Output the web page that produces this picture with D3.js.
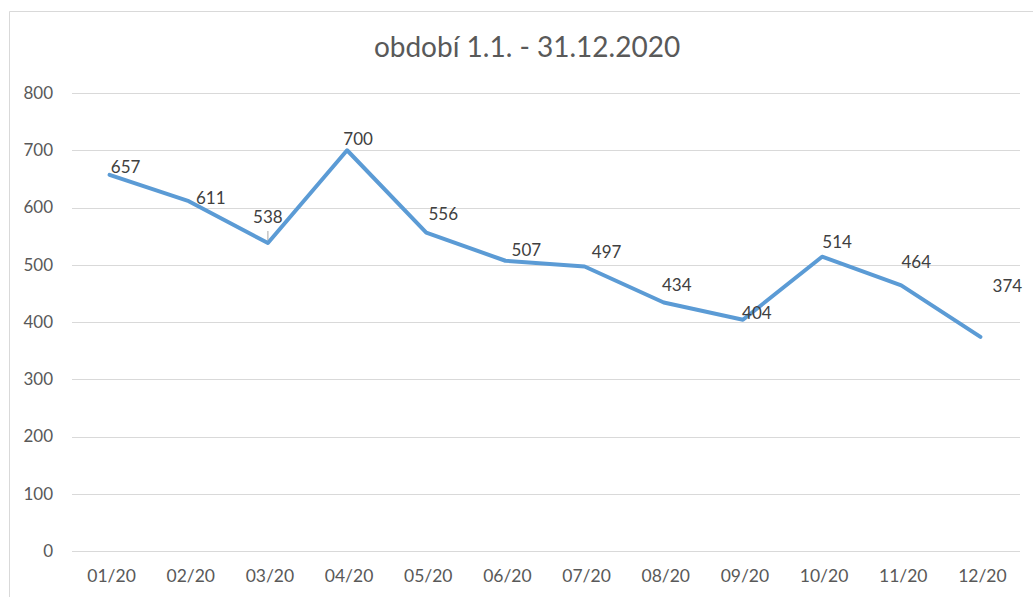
<!DOCTYPE html>
<html>
<head>
<meta charset="utf-8">
<script src="https://cdn.jsdelivr.net/npm/d3@7"></script>
<style>
  body { margin: 0; background: #fff; }
  svg text { font-family: Lato, "Open Sans", sans-serif; }
</style>
</head>
<body>
<svg id="chart"></svg>
<script>
// data
const months = ["01/20", "02/20", "03/20", "04/20", "05/20", "06/20",
                "07/20", "08/20", "09/20", "10/20", "11/20", "12/20"];
const counts = [657, 611, 538, 700, 556, 507, 497, 434, 404, 514, 464, 374];
const yTicks = [0, 100, 200, 300, 400, 500, 600, 700, 800];
const title = "období 1.1. - 31.12.2020";

// label placement offsets (px from point), like Excel auto placement
const labelDx = [16, 22, 0, 11, 17, 21, 22, 13, 14, 15, 15, 27];
const labelDy = [-8, -3, -26, -11, -19, -11, -14, -17, -7, -15, -23, -51];

const width = 1033, height = 597;
const margin = { top: 93, right: 13, bottom: 46, left: 70 };

const svg = d3.select("#chart").attr("width", width).attr("height", height);

// chart frame
svg.append("path")
    .attr("d", `M9.5,${height} V11.5 H${width}`)
    .attr("fill", "none")
    .attr("stroke", "#d9d9d9")
    .attr("stroke-width", 1);

svg.append("text")
    .attr("x", 527)
    .attr("y", 57)
    .attr("text-anchor", "middle")
    .attr("font-size", 28)
    .attr("fill", "#595959")
    .text(title);

const x = d3.scaleBand().domain(months)
    .range([margin.left, width - margin.right]);
const y = d3.scaleLinear().domain([0, 800])
    .range([height - margin.bottom, margin.top]);

// gridlines
svg.append("g").selectAll("line")
    .data(yTicks)
    .join("line")
    .attr("x1", margin.left + 2)
    .attr("x2", width - margin.right)
    .attr("y1", d => Math.round(y(d)) + 0.5)
    .attr("y2", d => Math.round(y(d)) + 0.5)
    .attr("stroke", "#d9d9d9")
    .attr("stroke-width", 1);

// y axis labels
svg.append("g").selectAll("text")
    .data(yTicks)
    .join("text")
    .attr("x", 53)
    .attr("y", d => y(d))
    .attr("dy", "0.35em")
    .attr("text-anchor", "end")
    .attr("font-size", 17)
    .attr("fill", "#595959")
    .text(d => d);

// x axis labels
svg.append("g").selectAll("text")
    .data(months)
    .join("text")
    .attr("x", d => x(d) + x.bandwidth() / 2 + 2)
    .attr("y", height - margin.bottom + 31)
    .attr("text-anchor", "middle")
    .attr("font-size", 17.5)
    .attr("fill", "#595959")
    .text(d => d);

const pts = months.map((m, i) => ({ m, v: counts[i], i }));

const line = d3.line()
    .x(d => x(d.m) + x.bandwidth() / 2)
    .y(d => y(d.v));

svg.append("path")
    .datum(pts)
    .attr("d", line)
    .attr("fill", "none")
    .attr("stroke", "#5b9bd5")
    .attr("stroke-width", 4)
    .attr("stroke-linejoin", "round")
    .attr("stroke-linecap", "round");

// leader line for the 538 label
svg.append("line")
    .attr("x1", x(months[2]) + x.bandwidth() / 2)
    .attr("x2", x(months[2]) + x.bandwidth() / 2)
    .attr("y1", y(counts[2]) - 12)
    .attr("y2", y(counts[2]) - 3)
    .attr("stroke", "#a6a6a6")
    .attr("stroke-width", 1);

// data labels
svg.append("g").selectAll("text")
    .data(pts)
    .join("text")
    .attr("x", d => x(d.m) + x.bandwidth() / 2 + labelDx[d.i])
    .attr("y", d => y(d.v) + labelDy[d.i])
    .attr("dy", "0.35em")
    .attr("text-anchor", "middle")
    .attr("font-size", 17)
    .attr("fill", "#404040")
    .text(d => d.v);
</script>
</body>
</html>
